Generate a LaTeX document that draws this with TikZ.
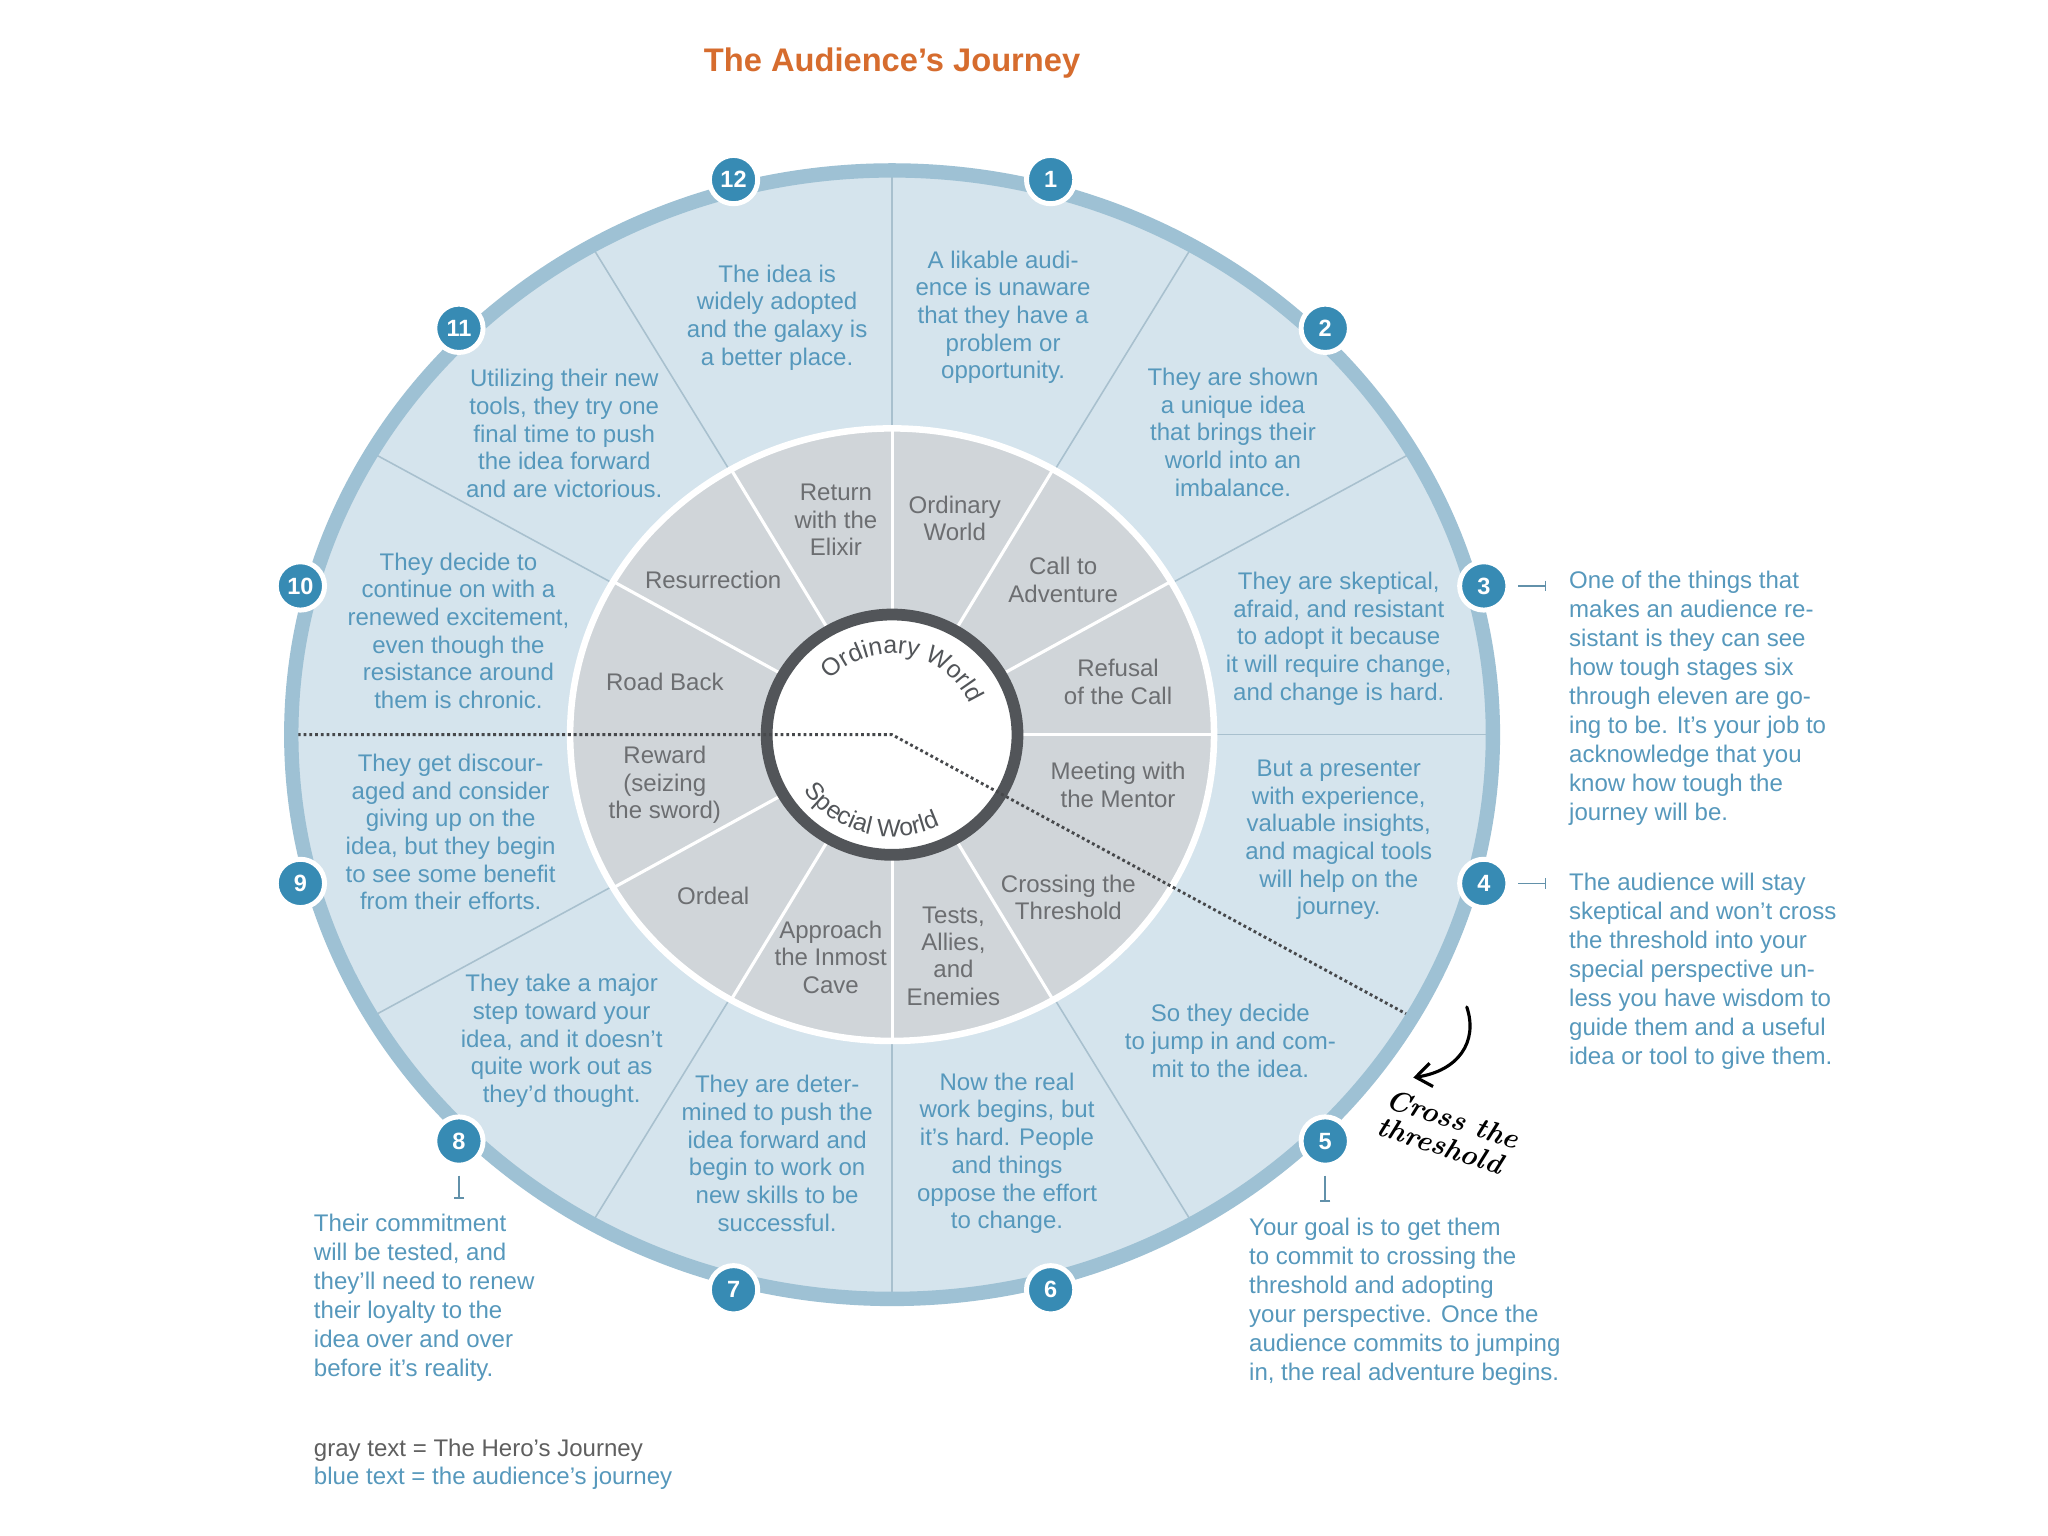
\documentclass[tikz,border=0pt]{standalone}
\usepackage{fontspec}
\setsansfont{Liberation Sans}
\usetikzlibrary{decorations.text,arrows.meta}
\definecolor{fillblue}{RGB}{213,228,237}
\definecolor{bandblue}{RGB}{158,193,212}
\definecolor{spokeblue}{RGB}{168,192,206}
\definecolor{ringgray}{RGB}{208,213,217}
\definecolor{darkring}{RGB}{82,85,89}
\definecolor{badgeblue}{RGB}{55,139,180}
\definecolor{textblue}{RGB}{86,152,188}
\definecolor{textgray}{RGB}{108,110,113}
\definecolor{titleorange}{RGB}{214,108,46}
\definecolor{dotgray}{RGB}{70,72,75}
\definecolor{legendgray}{RGB}{95,95,95}
\begin{document}
\begin{tikzpicture}[x=0.5pt,y=0.5pt,
  bluetxt/.style={font=\sffamily\fontsize{9.2}{10.6}\selectfont, text=textblue, align=center, inner sep=0pt},
  graytxt/.style={font=\sffamily\fontsize{9.2}{10.5}\selectfont, text=textgray, align=center, inner sep=0pt},
  note/.style={font=\sffamily\fontsize{9.2}{11.1}\selectfont, text=textblue, align=left, anchor=north west, inner sep=0pt},
  legend/.style={font=\sffamily\fontsize{9.2}{11.1}\selectfont, anchor=west, inner sep=0pt},
  badge/.style={circle, fill=badgeblue, draw=white, line width=1.9pt, minimum size=18.5pt, inner sep=0pt, font=\sffamily\bfseries\fontsize{9}{9}\selectfont, text=white},
  spoke/.style={draw=spokeblue, line width=0.6pt},
  innerspoke/.style={draw=white, line width=1.2pt},
  pointer/.style={draw=textblue!70!gray, line width=0.6pt, -{Bar[width=4pt]}, shorten <=3pt},
  threshold/.style={draw=dotgray, line width=1.1pt, dash pattern=on 1.1pt off 1.1pt},
  worldtxt/.style={decorate, decoration={text along path, text align=center, text color=darkring}},
]
\fill[white] (0,0) rectangle (1568,1176);
\useasboundingbox (0,0) rectangle (1568,1176);

% title
\node[font=\sffamily\bfseries\fontsize{12.5}{14}\selectfont, text=titleorange] (title) at (683,1128) {The Audience’s Journey};

\begin{scope}[shift={(683,613.5)}]
  \fill[fillblue] (0,0) ellipse [x radius=461, y radius=433];
  \foreach \a in {0,30,60,90,120,150,210,240,270,300}
    \draw[spoke] (0,0) -- (\a:461 and 433);
  \fill[ringgray] (0,0) ellipse [x radius=246.5, y radius=234.5];
  \foreach \a in {0,30,60,90,120,150,210,240,270,300}
    \draw[innerspoke] (0,0) -- (\a:246.5 and 234.5);
  \draw[white, line width=2.5pt] (0,0) ellipse [x radius=246.5, y radius=234.5];
  \filldraw[fill=white, draw=darkring, line width=4.5pt] (0,0) ellipse [x radius=96, y radius=92];
  \path[worldtxt, decoration={text={|\sffamily\fontsize{9.5}{11}\selectfont|Ordinary World}}]
    (150:64 and 62) arc [start angle=150, end angle=10, x radius=64, y radius=62];
  \path[worldtxt, decoration={text={|\sffamily\fontsize{9.5}{11}\selectfont|Special World}}]
    (200:81 and 78) arc [start angle=200, end angle=310, x radius=81, y radius=78];
  \coordinate (C) at (0,0);
  \coordinate (thL) at (180:455 and 428);
  \coordinate (thR) at (-30:455 and 428);
  \draw[threshold] (thL) -- (C) -- (thR);
  \draw[bandblue, line width=5.5pt] (0,0) ellipse [x radius=460, y radius=432];
  \foreach \k in {1,...,12}{
    \pgfmathsetmacro\ang{75-30*(\k-1)}
    \node[badge] (b\k) at (\ang:469 and 440) {\k};
  }
\end{scope}

% audience (blue) texts
\node[bluetxt] (t1) at (768,933) {A likable audi-\\ence is unaware\\that they have a\\problem or\\opportunity.};
\node[bluetxt] (t2) at (944,845) {They are shown\\a unique idea\\that brings their\\world into an\\imbalance.};
\node[bluetxt] (t3) at (1025,687) {They are skeptical,\\afraid, and resistant\\to adopt it because\\it will require change,\\and change is hard.};
\node[bluetxt] (t4) at (1025,533) {But a presenter\\with experience,\\valuable insights,\\and magical tools\\will help on the\\journey.};
\node[bluetxt] (t5) at (942,379) {So they decide\\to jump in and com-\\mit to the idea.};
\node[bluetxt] (t6) at (771,293) {Now the real\\work begins, but\\it’s hard. People\\and things\\oppose the effort\\to change.};
\node[bluetxt] (t7) at (595,293) {They are deter-\\mined to push the\\idea forward and\\begin to work on\\new skills to be\\successful.};
\node[bluetxt] (t8) at (430,379) {They take a major\\step toward your\\idea, and it doesn’t\\quite work out as\\they’d thought.};
\node[bluetxt] (t9) at (345,539) {They get discour-\\aged and consider\\giving up on the\\idea, but they begin\\to see some benefit\\from their efforts.};
\node[bluetxt] (t10) at (351,693) {They decide to\\continue on with a\\renewed excitement,\\even though the\\resistance around\\them is chronic.};
\node[bluetxt] (t11) at (432,844) {Utilizing their new\\tools, they try one\\final time to push\\the idea forward\\and are victorious.};
\node[bluetxt] (t12) at (595,933) {The idea is\\widely adopted\\and the galaxy is\\a better place.};

% hero (gray) texts
\node[graytxt] (h1) at (731,779) {Ordinary\\World};
\node[graytxt] (h2) at (814,732) {Call to\\Adventure};
\node[graytxt] (h3) at (856,654) {Refusal\\of the Call};
\node[graytxt] (h4) at (856,575) {Meeting with\\the Mentor};
\node[graytxt] (h5) at (818,489) {Crossing the\\Threshold};
\node[graytxt] (h6) at (730,444) {Tests,\\Allies,\\and\\Enemies};
\node[graytxt] (h7) at (636,443) {Approach\\the Inmost\\Cave};
\node[graytxt] (h8) at (546,490) {Ordeal};
\node[graytxt] (h9) at (509,575) {Reward\\(seizing\\the sword)};
\node[graytxt] (h10) at (509,654) {Road Back};
\node[graytxt] (h11) at (546,732) {Resurrection};
\node[graytxt] (h12) at (640,778) {Return\\with the\\Elixir};

% pointers and notes
\coordinate (p3) at ([xshift=13.8pt]b3.east);
\coordinate (p4) at ([xshift=13.8pt]b4.east);
\coordinate (p5) at ([yshift=-13pt]b5.south);
\coordinate (p8) at ([yshift=-12pt]b8.south);
\draw[pointer] (b3.east) -- (p3);
\draw[pointer] (b4.east) -- (p4);
\draw[pointer] (b5.south) -- (p5);
\draw[pointer] (b8.south) -- (p8);

\node[note] (n3) at (1201,739) {One of the things that\\makes an audience re-\\sistant is they can see\\how tough stages six\\through eleven are go-\\ing to be. It’s your job to\\acknowledge that you\\know how tough the\\journey will be.};
\node[note] (n4) at (1201,508) {The audience will stay\\skeptical and won’t cross\\the threshold into your\\special perspective un-\\less you have wisdom to\\guide them and a useful\\idea or tool to give them.};
\node[note] (n5) at (956,244) {Your goal is to get them\\to commit to crossing the\\threshold and adopting\\your perspective. Once the\\audience commits to jumping\\in, the real adventure begins.};
\node[note] (n8) at (240,247) {Their commitment\\will be tested, and\\they’ll need to renew\\their loyalty to the\\idea over and over\\before it’s reality.};

% legend
\node[legend, text=legendgray] (lg1) at (240,66) {gray text = The Hero’s Journey};
\node[legend, text=textblue] (lg2) at (240,44) {blue text = the audience’s journey};

% cross the threshold
\node[font=\rmfamily\itshape\bfseries\fontsize{11}{11}\selectfont, rotate=-18, align=left, inner sep=0pt] (cross) at (1109,309) {Cross the\\threshold};
\coordinate (hs) at (1123,405);
\coordinate (he) at (1082,351);
\draw[line width=1.2pt, line cap=round, -{Straight Barb[length=6pt,width=9pt]}] (hs) .. controls (1132,378) and (1116,356) .. (he);
\end{tikzpicture}
\end{document}
